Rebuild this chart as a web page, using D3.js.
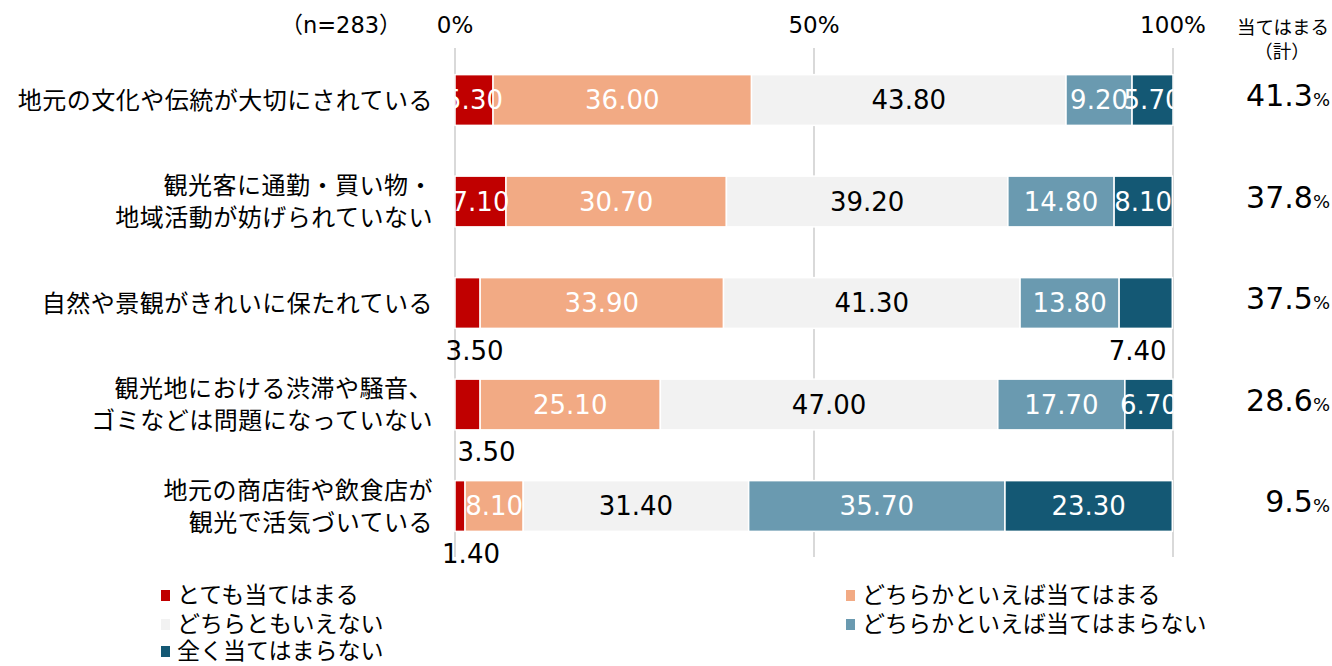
<!DOCTYPE html>
<html>
<head>
<meta charset="utf-8">
<script src="https://cdn.jsdelivr.net/npm/d3@7/dist/d3.min.js"></script>
<style>
  html, body { margin: 0; padding: 0; background: #fff; }
  svg { display: block; font-family: "DejaVu Sans", "Noto Sans CJK JP", sans-serif; }
</style>
</head>
<body>
<svg id="chart" width="1332" height="666"></svg>
<script>
// Survey items (rows, top to bottom)
const categories = [
  ["地元の文化や伝統が大切にされている"],
  ["観光客に通勤・買い物・", "地域活動が妨げられていない"],
  ["自然や景観がきれいに保たれている"],
  ["観光地における渋滞や騒音、", "ゴミなどは問題になっていない"],
  ["地元の商店街や飲食店が", "観光で活気づいている"]
];
const categoryKeys = categories.map(d => d.join(""));

// Response options (stack order)
const seriesNames = [
  "とても当てはまる",
  "どちらかといえば当てはまる",
  "どちらともいえない",
  "どちらかといえば当てはまらない",
  "全く当てはまらない"
];

// Shares (%) per response option, one value per row
const veryTrue      = [5.30, 7.10, 3.50, 3.50, 1.40];
const ratherTrue    = [36.00, 30.70, 33.90, 25.10, 8.10];
const neither       = [43.80, 39.20, 41.30, 47.00, 31.40];
const ratherNotTrue = [9.20, 14.80, 13.80, 17.70, 35.70];
const notAtAllTrue  = [5.70, 8.10, 7.40, 6.70, 23.30];

// "当てはまる（計）" totals
const totals = [41.3, 37.8, 37.5, 28.6, 9.5];

const tickValues = [0, 50, 100];
const tickLabels = ["0%", "50%", "100%"];
const sampleNote = "（n=283）";

const colors = ["#C00000", "#F2AA84", "#F2F2F2", "#6A9AB0", "#145874"];
const labelColors = ["#fff", "#fff", "#000", "#fff", "#fff"];

// Labels drawn below the bar instead of inside (row, series, horizontal nudge)
const outsideLabels = [
  { row: 2, s: 0, nudge: 7 },
  { row: 2, s: 4, nudge: -8 },
  { row: 3, s: 0, nudge: 19 },
  { row: 4, s: 0, nudge: 11 }
];

const seriesValues = [veryTrue, ratherTrue, neither, ratherNotTrue, notAtAllTrue];
const rows = categoryKeys.map((k, i) => {
  const r = { key: k };
  seriesNames.forEach((s, j) => r[s] = seriesValues[j][i]);
  return r;
});

const svg = d3.select("#chart");
const x = d3.scaleLinear().domain([0, 100]).range([455, 1173]);
const y = d3.scaleBand().domain(categoryKeys).range([49.25, 556.75])
  .paddingInner(0.5).paddingOuter(0.25);

const stacked = d3.stack().keys(seriesNames)(rows);

// Vertical gridlines
svg.append("g").selectAll("line").data(tickValues).join("line")
  .attr("x1", d => x(d)).attr("x2", d => x(d))
  .attr("y1", 48).attr("y2", 557)
  .attr("stroke", "#D9D9D9").attr("stroke-width", 2);

// Top axis labels
svg.append("g").selectAll("text").data(tickValues).join("text")
  .attr("x", d => x(d)).attr("y", 33)
  .attr("text-anchor", "middle")
  .attr("font-size", 23).attr("fill", "#000")
  .text((d, i) => tickLabels[i]);

svg.append("text").attr("x", 341).attr("y", 33)
  .attr("text-anchor", "middle").attr("font-size", 22.5).attr("fill", "#000")
  .text(sampleNote);

const totHead = svg.append("text").attr("text-anchor", "middle")
  .attr("font-size", 18.5).attr("fill", "#000");
totHead.append("tspan").attr("x", 1283).attr("y", 34).text("当てはまる");
totHead.append("tspan").attr("x", 1282).attr("y", 58).text("（計）");

// Bars
const barG = svg.append("g");
stacked.forEach((layer, si) => {
  barG.append("g").selectAll("rect").data(layer).join("rect")
    .attr("x", d => x(d[0]))
    .attr("width", d => x(d[1]) - x(d[0]))
    .attr("y", d => y(d.data.key))
    .attr("height", y.bandwidth())
    .attr("fill", colors[si])
    .attr("stroke", "#fff").attr("stroke-width", 1.5);
});

// Inside value labels, clipped to the plot area
svg.append("clipPath").attr("id", "plotClip").append("rect")
  .attr("x", x(0)).attr("y", 0).attr("width", x(100) - x(0)).attr("height", 666);

const isOutside = (r, s) => outsideLabels.some(o => o.row === r && o.s === s);
const inG = svg.append("g").attr("clip-path", "url(#plotClip)");
stacked.forEach((layer, si) => {
  layer.forEach((d, ri) => {
    if (isOutside(ri, si)) return;
    inG.append("text")
      .attr("x", x((d[0] + d[1]) / 2))
      .attr("y", y(d.data.key) + y.bandwidth() / 2)
      .attr("dy", "0.36em")
      .attr("text-anchor", "middle")
      .attr("font-size", 26)
      .attr("fill", labelColors[si])
      .text(d3.format(".2f")(d.data[seriesNames[si]]));
  });
});

// Labels placed under their bars
outsideLabels.forEach(o => {
  const d = stacked[o.s][o.row];
  svg.append("text")
    .attr("x", x((d[0] + d[1]) / 2) + o.nudge)
    .attr("y", y(d.data.key) + y.bandwidth() + 22)
    .attr("dy", "0.36em")
    .attr("text-anchor", "middle")
    .attr("font-size", 26)
    .attr("fill", "#000")
    .text(d3.format(".2f")(d.data[seriesNames[o.s]]));
});

// Category labels
const catG = svg.append("g");
categories.forEach((lines, i) => {
  const cy = y(categoryKeys[i]) + y.bandwidth() / 2;
  const lh = 32;
  const t = catG.append("text").attr("text-anchor", "end")
    .attr("font-size", 24).attr("letter-spacing", 0.5).attr("fill", "#000");
  lines.forEach((ln, j) => {
    t.append("tspan").attr("x", 433)
      .attr("y", cy + (j - (lines.length - 1) / 2) * lh)
      .attr("dy", "0.36em").text(ln);
  });
});

// Totals column
const totG = svg.append("g");
totals.forEach((v, i) => {
  const t = totG.append("text")
    .attr("x", 1330)
    .attr("y", y(categoryKeys[i]) + y.bandwidth() / 2)
    .attr("dy", "0.38em").attr("text-anchor", "end").attr("fill", "#000");
  t.append("tspan").attr("font-size", 30).text(d3.format(".1f")(v));
  t.append("tspan").attr("font-size", 18).text("%");
});

// Legend
const legendPos = [
  { x: 161, y: 595 }, { x: 846, y: 595 },
  { x: 161, y: 624 }, { x: 846, y: 624 },
  { x: 161, y: 651 }
];
const lg = svg.append("g");
seriesNames.forEach((name, i) => {
  const p = legendPos[i];
  lg.append("rect").attr("x", p.x).attr("y", p.y - 5)
    .attr("width", 9).attr("height", 11).attr("fill", colors[i]);
  lg.append("text").attr("x", p.x + 16).attr("y", p.y)
    .attr("dy", "0.34em").attr("font-size", 23).attr("fill", "#000")
    .text(name);
});
</script>
</body>
</html>
